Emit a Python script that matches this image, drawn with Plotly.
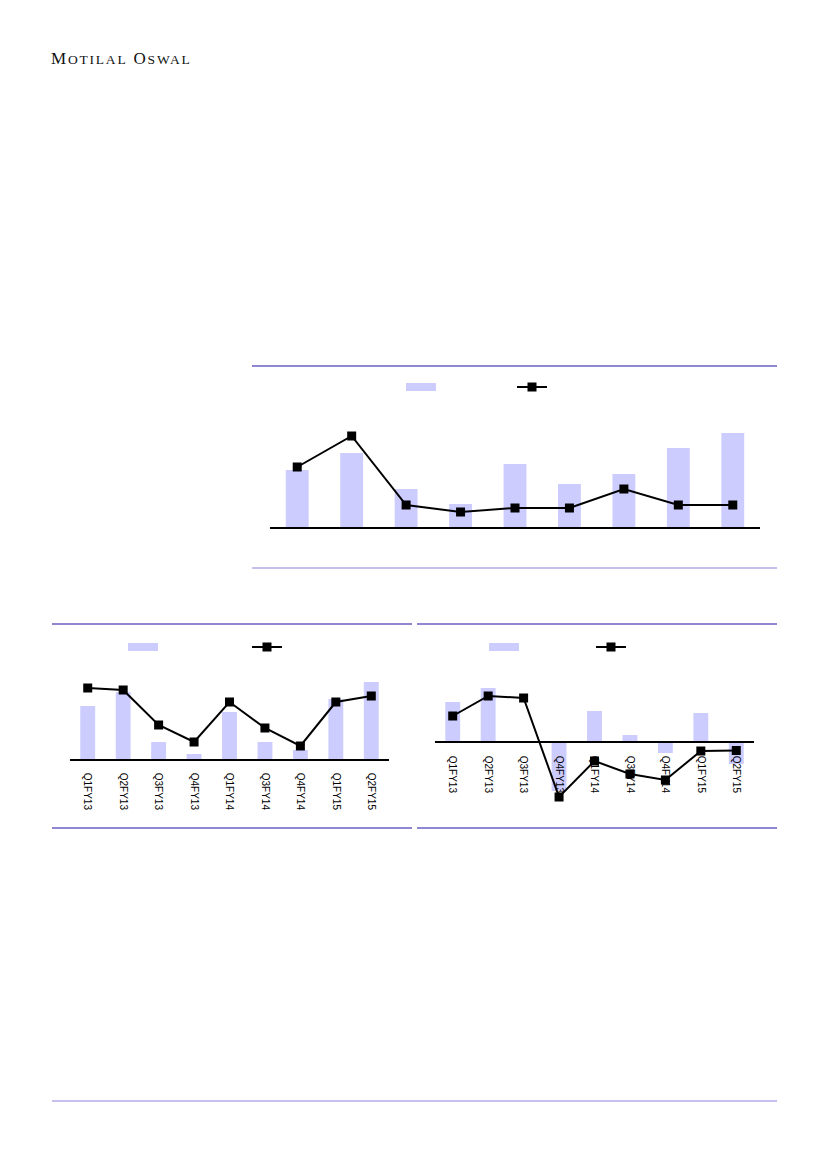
import plotly.graph_objects as go

# page is photographed with the default 8px body margin, so the figure is offset
OFF = 8
W, H = 827 - 2 * OFF, 1169 - 2 * OFF
def px(x): return (x - OFF) / W
def py(y): return 1 - (y - OFF) / H

# ---------------- data ----------------
quarters = ["Q1FY13", "Q2FY13", "Q3FY13", "Q4FY13", "Q1FY14",
            "Q3FY14", "Q4FY14", "Q1FY15", "Q2FY15"]

top_bars = [57, 74, 38, 23, 63, 43, 53, 79, 94]
top_line = [60, 91, 22, 15, 19, 19, 38, 22, 22]

left_bars = [53, 67, 17, 5, 47, 17, 9, 60, 77]
left_line = [71, 69, 34, 17, 57, 31, 13, 57, 63]

right_bars = [40, 54, 0, -49, 31, 7, -11, 29, -22]
right_line = [26, 46, 44, -55, -19, -32, -38, -9, -8.5]

BAR = "#ccccff"
DARK_RULE = "#6a5fc6"
LIGHT_RULE = "#b2abe8"

fig = go.Figure()

def add_chart(bars, line, xa, ya, lg_bar, lg_line, xl=None, yl=None):
    xl = xl or xa
    yl = yl or ya
    fig.add_trace(go.Bar(x=quarters, y=bars, marker=dict(color=BAR, line=dict(width=0)),
                         width=0.42, showlegend=False, xaxis=xa, yaxis=ya))
    fig.add_trace(go.Scatter(x=quarters, y=line, mode="lines+markers",
                             line=dict(color="black", width=2),
                             marker=dict(symbol="square", size=9, color="black"),
                             name="", legend=lg_line, xaxis=xl, yaxis=yl))
    # legend swatch for bars
    fig.add_trace(go.Scatter(x=[None], y=[None], mode="lines",
                             line=dict(color=BAR, width=8),
                             name="", legend=lg_bar, xaxis=xa, yaxis=ya))

add_chart(top_bars, top_line, "x", "y", "legend", "legend2")
add_chart(left_bars, left_line, "x2", "y2", "legend3", "legend4")
# right chart: line lives on its own (identical) subplot so it sits above the tick labels
add_chart(right_bars, right_line, "x3", "y3", "legend5", "legend6", "x4", "y4")

tickfont = dict(family="Liberation Sans, Arial", size=10, color="black")

def leg(x, y):
    return dict(x=px(x - 5), y=py(y), xanchor="left", yanchor="middle",
                bgcolor="rgba(0,0,0,0)", borderwidth=0, itemwidth=30,
                font=dict(size=10), orientation="h")

fig.update_layout(
    width=W, height=H,
    margin=dict(l=0, r=0, t=0, b=0),
    paper_bgcolor="white", plot_bgcolor="rgba(0,0,0,0)",
    bargap=0.5,
    xaxis=dict(domain=[px(270), px(760)], anchor="y", range=[-0.5, 8.5],
               showline=True, linecolor="black", linewidth=1.5,
               showticklabels=False, ticks="", showgrid=False, zeroline=False),
    yaxis=dict(domain=[py(527), py(407)], anchor="x", range=[0, 120],
               visible=False),
    xaxis2=dict(domain=[px(70), px(389)], anchor="y2", range=[-0.5, 8.5],
                showline=True, linecolor="black", linewidth=1.5,
                tickangle=90, tickfont=tickfont, ticks="", showgrid=False,
                zeroline=False, ticklabelstandoff=10),
    yaxis2=dict(domain=[py(759), py(675)], anchor="x2", range=[0, 84],
                visible=False),
    xaxis3=dict(domain=[px(435), px(754)], anchor="free", position=py(742),
                range=[-0.5, 8.5], showline=True, linecolor="black", linewidth=1.5,
                tickangle=90, tickfont=tickfont, ticks="", showgrid=False,
                zeroline=False, ticklabelstandoff=11),
    yaxis3=dict(domain=[py(802), py(682)], anchor="x3", range=[-60, 60],
                visible=False),
    xaxis4=dict(domain=[px(435), px(754)], anchor="y4", range=[-0.5, 8.5],
                visible=False),
    yaxis4=dict(domain=[py(802), py(682)], anchor="x4", range=[-60, 60],
                visible=False),
    legend=leg(406, 387),
    legend2=leg(517, 387),
    legend3=leg(128, 647),
    legend4=leg(252, 647),
    legend5=leg(489, 647),
    legend6=leg(596, 647),
)

def rule(x0, x1, y, color):
    fig.add_shape(type="line", xref="paper", yref="paper",
                  x0=px(x0), x1=px(x1), y0=py(y), y1=py(y),
                  line=dict(color=color, width=1.3))

rule(252, 777, 366, DARK_RULE)
rule(252, 777, 568, LIGHT_RULE)
rule(52, 412, 624, DARK_RULE)
rule(52, 412, 828, DARK_RULE)
rule(417, 777, 624, DARK_RULE)
rule(417, 777, 828, DARK_RULE)
rule(52, 777, 1101, LIGHT_RULE)

fig.add_annotation(
    xref="paper", yref="paper", x=px(49), y=py(59), xanchor="left", yanchor="middle",
    showarrow=False,
    text=('<span style="letter-spacing:1.8px">M<span style="font-size:13.5px">OTILAL</span> '
          'O<span style="font-size:13.5px">SWAL</span></span>'),
    font=dict(family="Liberation Serif, Times New Roman", size=17, color="#111111"),
)

fig.write_html("out.html")
